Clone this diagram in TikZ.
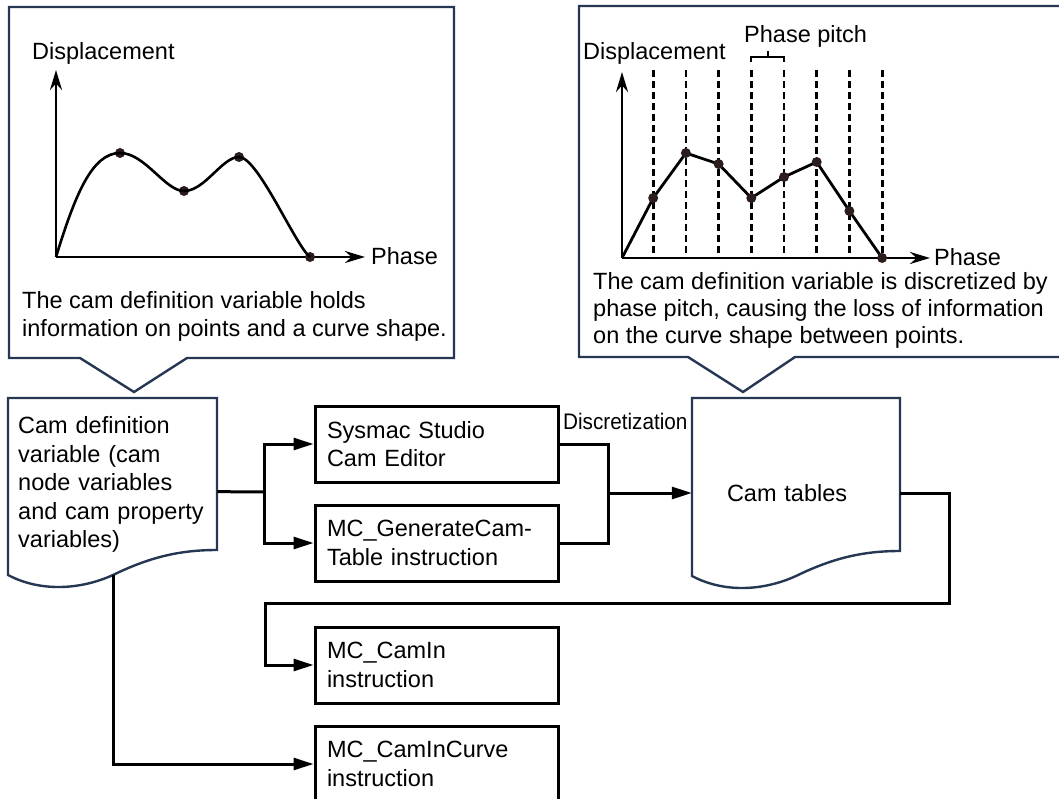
\documentclass[tikz,border=0pt]{standalone}
\usepackage{fontspec}
\setmainfont{Liberation Sans}
\usetikzlibrary{arrows.meta,calc}
\definecolor{navy}{HTML}{263754}
\definecolor{dotc}{HTML}{2B1D1D}
\newcommand{\mainsize}{\fontsize{23.5}{28.5}\selectfont}

\begin{document}
\begin{tikzpicture}[x=1pt,y=-1pt,
    callout/.style={draw=navy, line width=2.4pt, fill=white},
    docline/.style={draw=navy, line width=2.4pt, fill=white},
    procbox/.style={draw, line width=3pt, minimum width=243pt, minimum height=76pt,
        text width=219pt, inner xsep=12pt, align=left, font=\mainsize},
    flow/.style={line width=3pt, -{Triangle[length=20pt,width=12pt]}},
    link/.style={line width=3pt},
    axis/.style={line width=2.6pt, -{Stealth[length=20pt,width=12pt]}},
    camdot/.style={circle, fill=dotc, inner sep=0pt, minimum size=10pt},
    pitchline/.style={line width=2.8pt, dash pattern=on 7pt off 4pt},
    lbl/.style={font=\mainsize, inner sep=0pt}
]
\useasboundingbox (0,0) rectangle (1059,799);
\clip (0,0) rectangle (1059,799);

% callouts
\draw[callout] (9,7) -- (454,7) -- (454,358) -- (187,358) -- (134,392) -- (80,358) -- (9,358) -- cycle;
\draw[callout] (1075,6) -- (579,6) -- (579,357) -- (688,357) -- (743,392) -- (795,357) -- (1075,357);

% curve with points
\coordinate (o1) at (56,257);
\draw[axis] (o1) -- (56,70);
\draw[axis] (o1) -- (365,257);
\node[lbl, anchor=base west] (disp1) at (32,60) {Displacement};
\node[lbl, anchor=base west] (phase1) at (371,265) {Phase};
\node[camdot] (a1) at (120,153) {};
\node[camdot] (a2) at (184,191) {};
\node[camdot] (a3) at (239,157) {};
\node[camdot] (a4) at (310,257) {};
\draw[line width=2.6pt] (o1) .. controls (75,195) and (92,153) .. (a1.center)
    .. controls (145,153) and (165,191) .. (a2.center)
    .. controls (205,191) and (222,157) .. (a3.center)
    .. controls (258,157) and (295,245) .. (a4.center);
\node[lbl, anchor=north west, align=left] (cap1) at (22,291)
    {The cam definition variable holds\\information on points and a curve shape.};

% discretized by phase pitch
\coordinate (o2) at (622,258);
\foreach \i in {1,...,8}
    \draw[pitchline] ({620.5+32.7*\i},70) -- ({620.5+32.7*\i},258);
\draw[axis] (o2) -- (622,72);
\draw[axis] (o2) -- (930,258);
\draw[line width=2.8pt] (o2) \foreach \y [count=\i] in {198,153,164,198,177,162,211,258} { -- ({620.5+32.7*\i},\y) };
\foreach \y [count=\i] in {198,153,164,198,177,162,211,258}
    \node[camdot] (b\i) at ({620.5+32.7*\i},\y) {};
\draw[line width=1.8pt] (b4 |- 0,62) -- (b4 |- 0,57) -- (b5 |- 0,57) -- (b5 |- 0,62)
    ($(b4 |- 0,57)!0.5!(b5 |- 0,57)$) -- ($(b4 |- 0,51)!0.5!(b5 |- 0,51)$);
\node[lbl, anchor=base west] (disp2) at (583,60) {Displacement};
\node[lbl, anchor=base west] (pitch) at (744,43) {Phase pitch};
\node[lbl, anchor=base west] (phase2) at (934,266) {Phase};
\node[lbl, anchor=north west, align=left, font=\fontsize{23.5}{27}\selectfont] (cap2) at (593,272)
    {The cam definition variable is discretized by\\phase pitch, causing the loss of information\\on the curve shape between points.};

% flow
\draw[docline] (8,398) -- (217,398) -- (217,550) .. controls (180,550) and (150,557) .. (113,575)
    .. controls (80,590) and (40,592) .. (8,575) -- cycle;
\node[lbl, anchor=north west, align=left, text width=189pt, inner xsep=10pt, inner ysep=18.5pt] (camdef) at (8,398)
    {Cam definition\\variable (cam\\node variables\\and cam property\\variables)};
\coordinate (wavept) at (113,575);

\draw[docline] (692,398) -- (900,398) -- (900,551) .. controls (863,551) and (833,558) .. (796,576)
    .. controls (763,591) and (724,593) .. (692,576) -- cycle;
\node[lbl, text width=138pt, inner xsep=35pt, minimum height=190pt, align=left] (camtab) at (796,493) {Cam tables};

\node[procbox] (sysmac) at (436.5,444) {Sysmac Studio\\Cam Editor};
\node[procbox] (gencam) at (436.5,543) {MC\_GenerateCam-\\Table instruction};
\node[procbox] (camin) at (436.5,665) {MC\_CamIn\\instruction};
\node[procbox] (camcurve) at (436.5,764) {MC\_CamInCurve\\instruction};
\node[lbl, anchor=base west] (disc) at (563,429) {\fontsize{22.5}{24}\selectfont\scalebox{0.92}[1]{Discretization}};

\coordinate (split) at (264,492);
\coordinate (merge) at (608,493);
\coordinate (loopr) at (949,603);
\coordinate (loopl) at (265,603);
\draw[link] ([yshift=-7pt]camdef.east) -- (split);
\draw[flow] (split) |- (sysmac.west);
\draw[flow] (split) |- (gencam.west);
\draw[link] (sysmac.east) -| (merge) |- (gencam.east);
\draw[flow] (merge) -- (camtab.west);
\draw[flow] (camtab.east) -| (loopr) -- (loopl) |- (camin.west);
\draw[flow] (wavept) |- (camcurve.west);
\end{tikzpicture}
\end{document}
